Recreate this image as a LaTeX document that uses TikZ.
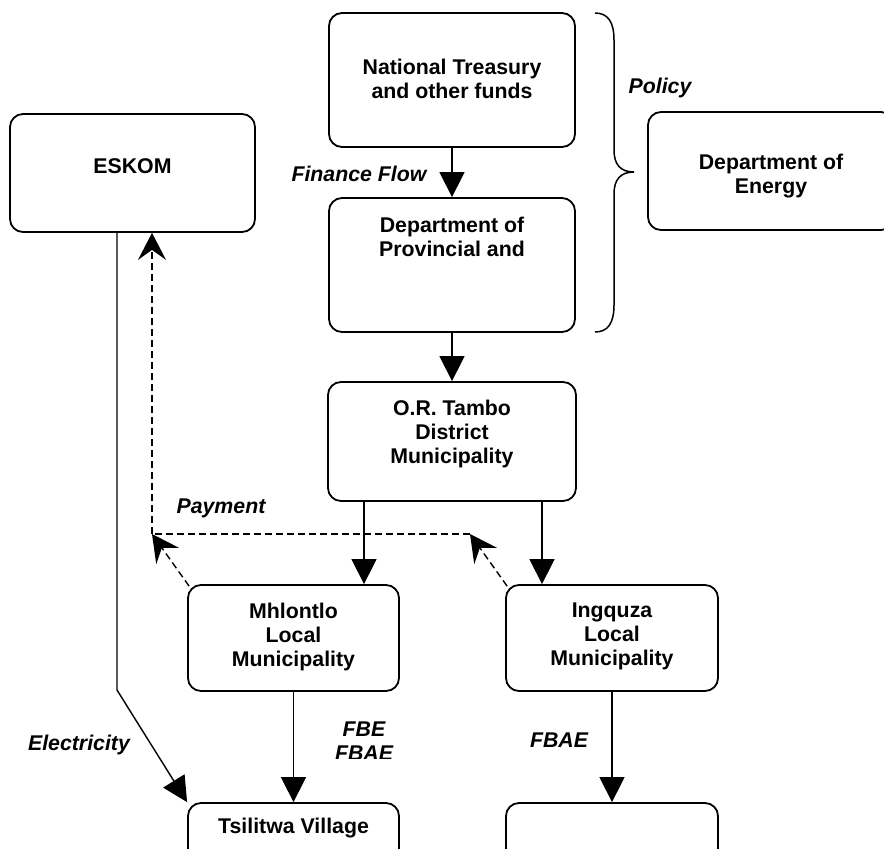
\documentclass[tikz,border=0pt]{standalone}
\usepackage{fontspec}
\setmainfont{Liberation Sans}
\usetikzlibrary{arrows.meta}
\tikzset{
  box/.style={draw, line width=1.8pt, rounded corners=13pt, inner sep=0pt},
  txt/.style={font=\bfseries\fontsize{21.3}{24}\selectfont, align=center, inner sep=0pt},
  lbl/.style={font=\bfseries\itshape\fontsize{21.3}{24}\selectfont, align=center, inner sep=0pt},
  arr/.style={line width=1.4pt, -{Triangle[length=25pt,width=25pt]}},
  darr/.style={line width=1.4pt, dash pattern=on 7pt off 4pt, -{Stealth[length=27pt,width=28pt,inset=10pt]}},
  dline/.style={line width=1.4pt, dash pattern=on 7pt off 4pt},
}
\begin{document}
\begin{tikzpicture}[x=1pt,y=-1pt]
\clip (0,0) rectangle (884,849);
% boxes
\node[box, minimum width=246pt, minimum height=134pt] (nt) at (452,80) {};
\node[box, minimum width=245pt, minimum height=118pt] (eskom) at (132.5,173) {};
\node[box, minimum width=246pt, minimum height=118pt] (energy) at (771,171) {};
\node[box, minimum width=246pt, minimum height=134pt] (dpt) at (452,265) {};
\node[box, minimum width=248pt, minimum height=119pt] (ort) at (452,441.5) {};
\node[box, minimum width=211pt, minimum height=106pt] (mhl) at (293.5,638) {};
\node[box, minimum width=212pt, minimum height=106pt] (ing) at (612,638) {};
\node[box, minimum width=211pt, minimum height=110pt] (tsi) at (293.5,858) {};
\node[box, minimum width=212pt, minimum height=110pt] (vil) at (612,858) {};
% texts
\node[txt] (ntT) at (452,78.5) {National Treasury\\and other funds};
\node[txt] (eskomT) at (132.5,166) {ESKOM};
\node[txt] (energyT) at (771,176.5) {Department of\\Energy};
\node[txt] (dptT) at (452,237) {Department of\\Provincial and};
\node[txt] (ortT) at (452,433.5) {O.R. Tambo\\District\\Municipality};
\node[txt] (mhlT) at (293.5,636.5) {Mhlontlo\\Local\\Municipality};
\node[txt] (ingT) at (612,636.5) {Ingquza\\Local\\Municipality};
\node[txt] (tsiT) at (293.5,828) {Tsilitwa Village};
% labels
\node[lbl] (policy) at (660,88) {Policy};
\node[lbl] (finance) at (359,174) {Finance Flow};
\node[lbl] (payment) at (221,508) {Payment};
\node[lbl] (fbae) at (559,740) {FBAE};
\node[lbl] (elec) at (79,745) {Electricity};
\begin{scope}
\clip (300,700) rectangle (430,758);
\node[lbl] (fbe) at (364,741) {FBE\\FBAE};
\end{scope}
% coordinates
\coordinate (xa) at (364,0);
\coordinate (xb) at (542,0);
\coordinate (xe) at (117,0);
\coordinate (bend) at (117,690);
\coordinate (pay) at (152,534);
\coordinate (pay2) at (470,534);
% solid arrows
\draw[arr] (nt.south) -- (dpt.north);
\draw[arr] (dpt.south) -- (ort.north);
\draw[arr] (ort.south -| xa) -- (mhl.north -| xa);
\draw[arr] (ort.south -| xb) -- (ing.north -| xb);
\draw[arr] (mhl.south) -- (tsi.north);
\draw[arr] (ing.south) -- (vil.north);
\draw[arr] (eskom.south -| xe) -- (bend) -- (tsi.north west);
% payment (dashed)
\draw[darr] ([shift={(2,2)}]mhl.north west) -- (pay);
\draw[darr] ([shift={(2,2)}]ing.north west) -- (pay2);
\draw[dline] (pay2) -- (pay);
\draw[darr] (pay) -- (eskom.south -| pay);
% brace
\draw[line width=1.5pt] (595,13) .. controls (608,13) and (614,22) .. (614,40)
  -- (614,150) .. controls (614,164) and (620,172) .. (634,172)
  .. controls (620,172) and (614,180) .. (614,194)
  -- (614,305) .. controls (614,323) and (608,332) .. (595,332);
\end{tikzpicture}
\end{document}
